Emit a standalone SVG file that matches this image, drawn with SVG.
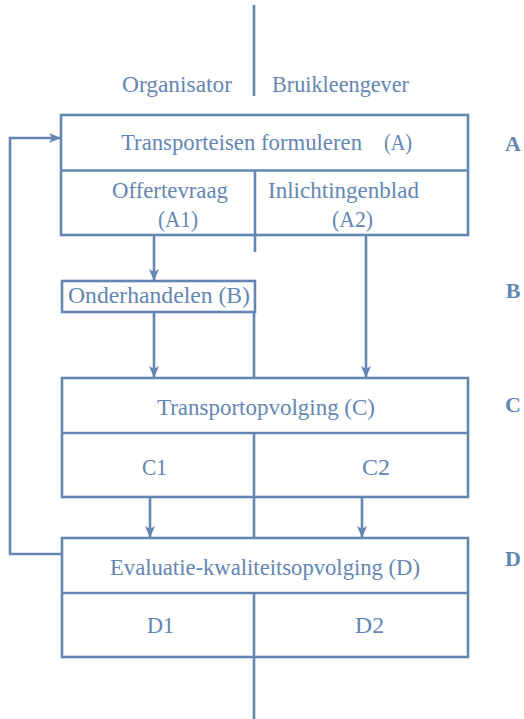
<svg xmlns="http://www.w3.org/2000/svg" width="524" height="719" viewBox="0 0 524 719">
<style>
.b{fill:none;stroke:#6386b2;stroke-width:2.6}
.l{fill:none;stroke:#6386b2;stroke-width:2.6}
.t{font-family:"Liberation Serif",serif;font-size:23px;fill:#6386b2}
.h{font-family:"Liberation Serif",serif;font-size:22px;font-weight:bold;fill:#6386b2;text-anchor:middle}
</style>
<defs>
<marker id="a" viewBox="0 0 12 12" refX="12" refY="6" markerWidth="12" markerHeight="12" orient="auto" markerUnits="userSpaceOnUse">
<path d="M0,1 L12,6 L0,11 L3,6 z" fill="#6386b2"/>
</marker>
</defs>
<g id="headers">
<text class="t" x="122" y="92" textLength="110" lengthAdjust="spacingAndGlyphs">Organisator</text>
<text class="t" x="272" y="92" textLength="137" lengthAdjust="spacingAndGlyphs">Bruikleengever</text>
</g>
<g id="lanes">
<text class="h" x="513" y="151">A</text>
<text class="h" x="513" y="298">B</text>
<text class="h" x="513" y="412">C</text>
<text class="h" x="513" y="566">D</text>
</g>
<g id="nodeA">
<rect class="b" x="61" y="115" width="407" height="120"/>
<line class="b" x1="61" y1="170.5" x2="468" y2="170.5"/>
<line class="b" x1="255" y1="170.5" x2="255" y2="235"/>
<text class="t" x="121" y="150" textLength="241" lengthAdjust="spacingAndGlyphs">Transporteisen formuleren</text>
<text class="t" x="384" y="150" textLength="28" lengthAdjust="spacingAndGlyphs">(A)</text>
<text class="t" x="112" y="198" textLength="116" lengthAdjust="spacingAndGlyphs">Offertevraag</text>
<text class="t" x="158" y="227" textLength="40" lengthAdjust="spacingAndGlyphs">(A1)</text>
<text class="t" x="268" y="198" textLength="151" lengthAdjust="spacingAndGlyphs">Inlichtingenblad</text>
<text class="t" x="332" y="227" textLength="41" lengthAdjust="spacingAndGlyphs">(A2)</text>
</g>
<g id="nodeB">
<rect class="b" x="62" y="281" width="193" height="31"/>
<text class="t" x="68" y="303" textLength="182" lengthAdjust="spacingAndGlyphs">Onderhandelen (B)</text>
</g>
<g id="nodeC">
<rect class="b" x="62" y="378" width="406" height="119"/>
<line class="b" x1="62" y1="433" x2="468" y2="433"/>
<line class="b" x1="254" y1="433" x2="254" y2="497"/>
<text class="t" x="157" y="415" textLength="218" lengthAdjust="spacingAndGlyphs">Transportopvolging (C)</text>
<text class="t" x="142" y="475" textLength="25" lengthAdjust="spacingAndGlyphs">C1</text>
<text class="t" x="362" y="475" textLength="28" lengthAdjust="spacingAndGlyphs">C2</text>
</g>
<g id="nodeD">
<rect class="b" x="62" y="538" width="406" height="119"/>
<line class="b" x1="62" y1="593" x2="468" y2="593"/>
<line class="b" x1="254" y1="593" x2="254" y2="657"/>
<text class="t" x="110" y="575" textLength="310" lengthAdjust="spacingAndGlyphs">Evaluatie-kwaliteitsopvolging (D)</text>
<text class="t" x="147" y="633" textLength="27" lengthAdjust="spacingAndGlyphs">D1</text>
<text class="t" x="355" y="633" textLength="29" lengthAdjust="spacingAndGlyphs">D2</text>
</g>
<g id="connectors">
<line class="l" x1="254" y1="5" x2="254" y2="96"/>
<line class="l" x1="255" y1="235" x2="255" y2="252"/>
<line class="l" x1="254" y1="312" x2="254" y2="378"/>
<line class="l" x1="254" y1="497" x2="254" y2="538"/>
<line class="l" x1="254" y1="657" x2="254" y2="719"/>
<line class="l" x1="154" y1="235" x2="154" y2="281" marker-end="url(#a)"/>
<line class="l" x1="366" y1="235" x2="366" y2="378" marker-end="url(#a)"/>
<line class="l" x1="154" y1="312" x2="154" y2="378" marker-end="url(#a)"/>
<line class="l" x1="150" y1="497" x2="150" y2="538" marker-end="url(#a)"/>
<line class="l" x1="362" y1="497" x2="362" y2="538" marker-end="url(#a)"/>
<polyline class="l" points="62,554 10,554 10,138 61,138" marker-end="url(#a)"/>
</g>
</svg>
